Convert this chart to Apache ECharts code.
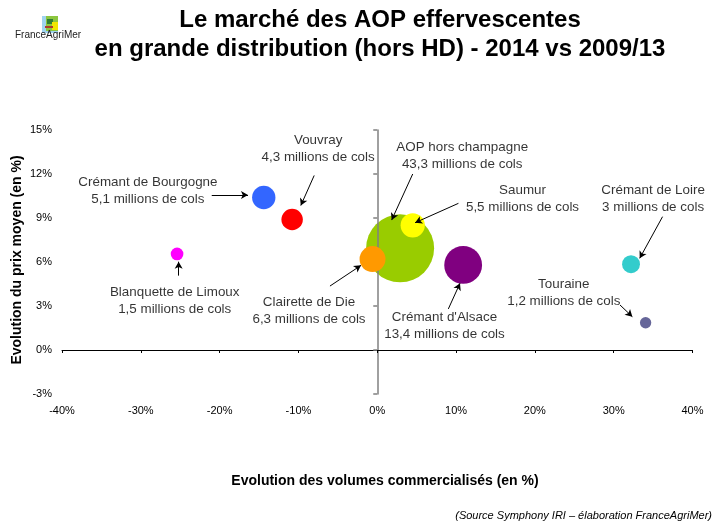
<!DOCTYPE html>
<html>
<head>
<meta charset="utf-8">
<script src="https://cdn.jsdelivr.net/npm/echarts@6/dist/echarts.min.js"></script>
<style>
  html, body { margin: 0; padding: 0; background: #fff; }
  #main { width: 716px; height: 522px; }
</style>
</head>
<body>
<div id="main"></div>
<script>
// appellations (bulles)
const names = ['AOP hors champagne', 'Crémant de Bourgogne', 'Vouvray', 'Blanquette de Limoux',
  'Saumur', 'Clairette de Die', "Crémant d'Alsace", 'Crémant de Loire', 'Touraine'];
const volumes = [2.9, -14.4, -10.8, -25.4, 4.5, -0.6, 10.9, 32.2, 34.05];   // evolution volumes (%)
const prix = [6.93, 10.4, 8.9, 6.55, 8.5, 6.2, 5.8, 5.85, 1.86];            // evolution prix moyen (%)
const cols = [43.3, 5.1, 4.3, 1.5, 5.5, 6.3, 13.4, 3, 1.2];                 // millions de cols
const couleurs = ['#99CC00', '#3366FF', '#FF0000', '#FF00FF', '#FFFF00', '#FF9900', '#800080', '#33CCCC', '#666699'];

// position des étiquettes (coordonnées du graphique)
const labelX = [10.78, -29.1, -7.5, -25.7, 18.43, -8.66, 8.53, 35.0, 23.67];
const labelY = [13.24, 10.85, 13.7, 3.34, 10.34, 2.66, 1.67, 10.34, 3.89];
// flèches : départ -> arrivée
const arrowFrom = [[4.5, 12.0], [-21.0, 10.57], [-8.0, 11.9], [-25.2, 5.07], [10.3, 10.0], [-6.0, 4.36], [9.02, 2.8], [36.2, 9.09], [30.8, 3.07]];
const arrowTo = [[1.83, 8.86], [-16.4, 10.57], [-9.7, 9.85], [-25.2, 6.02], [4.8, 8.68], [-2.06, 5.77], [10.5, 4.55], [33.3, 6.25], [32.37, 2.27]];

const xTicks = { min: -40, max: 40, interval: 10 };
const yTicks = { min: -3, max: 15, interval: 3 };

const chart = echarts.init(document.getElementById('main'), null, { renderer: 'canvas' });

const font = 'Liberation Sans, Arial, sans-serif';

// une série par bulle, la grosse bulle verte passe sous l'axe vertical
const bubbleSeries = names.map(function (n, i) {
  return {
    name: n,
    type: 'scatter',
    xAxisIndex: 0,
    yAxisIndex: 0,
    zlevel: i === 0 ? 0 : 2,
    symbolSize: function (d) { return 68 * Math.sqrt(d[2] / 43.3); },
    itemStyle: { color: couleurs[i], opacity: 1 },
    emphasis: { disabled: true },
    data: [[volumes[i], prix[i], cols[i]]]
  };
});

const labelSeries = {
  name: 'etiquettes',
  type: 'scatter',
  zlevel: 3,
  symbolSize: 0,
  silent: true,
  data: names.map(function (n, i) {
    return { value: [labelX[i], labelY[i]], txt: n + '\n' + String(cols[i]).replace('.', ',') + ' millions de cols' };
  }),
  label: {
    show: true,
    position: 'inside',
    formatter: function (p) { return p.data.txt; },
    fontFamily: font,
    fontSize: 13.4,
    lineHeight: 17,
    color: '#000'
  },
  markLine: {
    silent: true,
    zlevel: 3,
    symbol: ['none', 'arrow'],
    symbolSize: [6, 7],
    label: { show: false },
    lineStyle: { color: '#000', width: 1, type: 'solid' },
    animation: false,
    data: arrowFrom.map(function (f, i) {
      return [{ coord: f }, { coord: arrowTo[i] }];
    })
  }
};

const option = {
  animation: false,
  backgroundColor: '#fff',
  grid: { left: 62, right: 23.5, top: 130, bottom: 128 },
  graphic: [
    {
      type: 'text', x: 380, y: 6,
      style: {
        text: 'Le marché des AOP effervescentes\nen grande distribution (hors HD) - 2014 vs 2009/13',
        font: 'bold 24px ' + font, fill: '#000', textAlign: 'center', lineHeight: 29
      }
    },
    // logo FranceAgriMer
    { type: 'rect', shape: { x: 42, y: 16, width: 16, height: 17 }, style: { fill: '#9fd3ef' } },
    { type: 'rect', shape: { x: 46, y: 16, width: 12, height: 15 }, style: { fill: '#8cc63f' } },
    { type: 'rect', shape: { x: 47, y: 19, width: 6, height: 5 }, style: { fill: '#2e7d32' } },
    { type: 'rect', shape: { x: 52, y: 22, width: 6, height: 8 }, style: { fill: '#f2e600' } },
    { type: 'rect', shape: { x: 45, y: 26, width: 8, height: 2 }, style: { fill: '#b03a2e' } },
    {
      type: 'text', x: 15, y: 30,
      style: { text: 'FranceAgriMer', font: '10px ' + font, fill: '#222' }
    },
    {
      type: 'text', x: 385, y: 481,
      style: {
        text: 'Evolution des volumes commercialisés (en %)',
        font: 'bold 14px ' + font, fill: '#000', textAlign: 'center', textVerticalAlign: 'middle'
      }
    },
    {
      type: 'text', x: 712, y: 510,
      style: {
        text: '(Source Symphony IRI – élaboration FranceAgriMer)',
        font: 'italic 11px ' + font, fill: '#000', textAlign: 'right'
      }
    },
    {
      type: 'text', x: 17, y: 260, rotation: Math.PI / 2,
      style: {
        text: 'Evolution du prix moyen (en %)',
        font: 'bold 14px ' + font, fill: '#000',
        textAlign: 'center', textVerticalAlign: 'middle'
      }
    }
  ],
  xAxis: [
    {
      type: 'value', position: 'bottom',
      min: xTicks.min, max: xTicks.max, interval: xTicks.interval,
      axisLine: { show: false, onZero: false },
      axisTick: { show: false },
      splitLine: { show: false },
      axisLabel: { formatter: '{value}%', fontFamily: font, fontSize: 11, color: '#000', margin: 11 }
    },
    {
      // ligne horizontale à 0 %, graduations vers le bas
      type: 'value', position: 'bottom',
      min: xTicks.min, max: xTicks.max, interval: xTicks.interval,
      zlevel: 1,
      axisLine: { show: true, onZero: true, onZeroAxisIndex: 0, lineStyle: { color: '#000', width: 1 } },
      axisTick: { show: true, inside: false, length: 3, lineStyle: { color: '#000' } },
      splitLine: { show: false },
      axisLabel: { show: false }
    }
  ],
  yAxis: [
    {
      type: 'value', position: 'left',
      min: yTicks.min, max: yTicks.max, interval: yTicks.interval,
      axisLine: { show: false, onZero: false },
      axisTick: { show: false },
      splitLine: { show: false },
      axisLabel: { formatter: '{value}%', fontFamily: font, fontSize: 11, color: '#000', margin: 10 }
    },
    {
      // ligne verticale à 0 %, graduations vers la gauche
      type: 'value', position: 'left',
      min: yTicks.min, max: yTicks.max, interval: yTicks.interval,
      zlevel: 1,
      axisLine: { show: true, onZero: true, onZeroAxisIndex: 0, lineStyle: { color: '#808080', width: 1.5 } },
      axisTick: { show: true, inside: false, length: 4, lineStyle: { color: '#808080', width: 1.5 } },
      splitLine: { show: false },
      axisLabel: { show: false }
    }
  ],
  series: bubbleSeries.concat([labelSeries])
};

chart.setOption(option);
</script>
</body>
</html>
